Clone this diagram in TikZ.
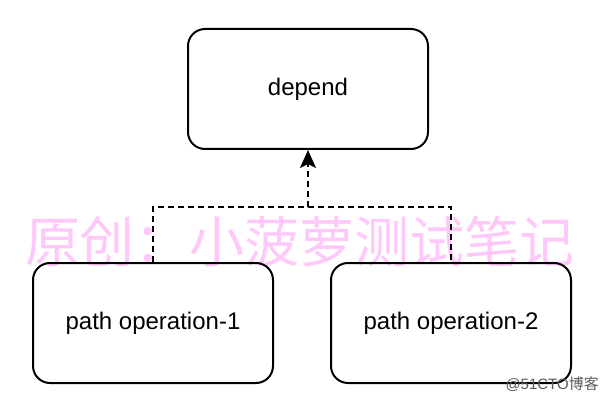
\documentclass[tikz,border=0pt]{standalone}
\usepackage{fontspec}
\setmainfont{Liberation Sans}
\newfontfamily\cjk{Noto Sans CJK SC}
\usetikzlibrary{arrows.meta}
\definecolor{wmpink}{RGB}{255,200,250}
\definecolor{wmgray}{RGB}{90,90,90}
\begin{document}
\begin{tikzpicture}[x=1pt,y=-1pt,
  box/.style={draw=black,line width=2pt,rounded corners=17pt,minimum width=240pt,minimum height=120pt,inner sep=0pt,font=\fontsize{24}{28}\selectfont},
  conn/.style={draw=black,line width=2pt,dash pattern=on 6pt off 4pt}]
\useasboundingbox (0,0) rectangle (606,404);
\node[text=wmpink,font=\cjk\fontsize{55}{60}\selectfont,inner sep=0pt] (wm) at (300,242) {原创：小菠萝测试笔记};
\node[box] (d) at (308,89) {\raisebox{-2pt}{depend}};
\node[box] (l) at (153,323) {\raisebox{-2pt}{path operation-1}};
\node[box] (r) at (451,323) {\raisebox{-2pt}{path operation-2}};
\coordinate (j) at (308,207);
\draw[conn] (l.north) |- (j) -| (r.north);
\draw[conn,-{Stealth[length=18pt,width=16pt,inset=4pt]}] (j) -- (d.south);
\node[text=wmgray,font=\fontsize{15}{18}\selectfont,inner sep=0pt,anchor=east] (wm2) at (599,384) {@51CTO{\cjk 博客}};
\end{tikzpicture}
\end{document}
